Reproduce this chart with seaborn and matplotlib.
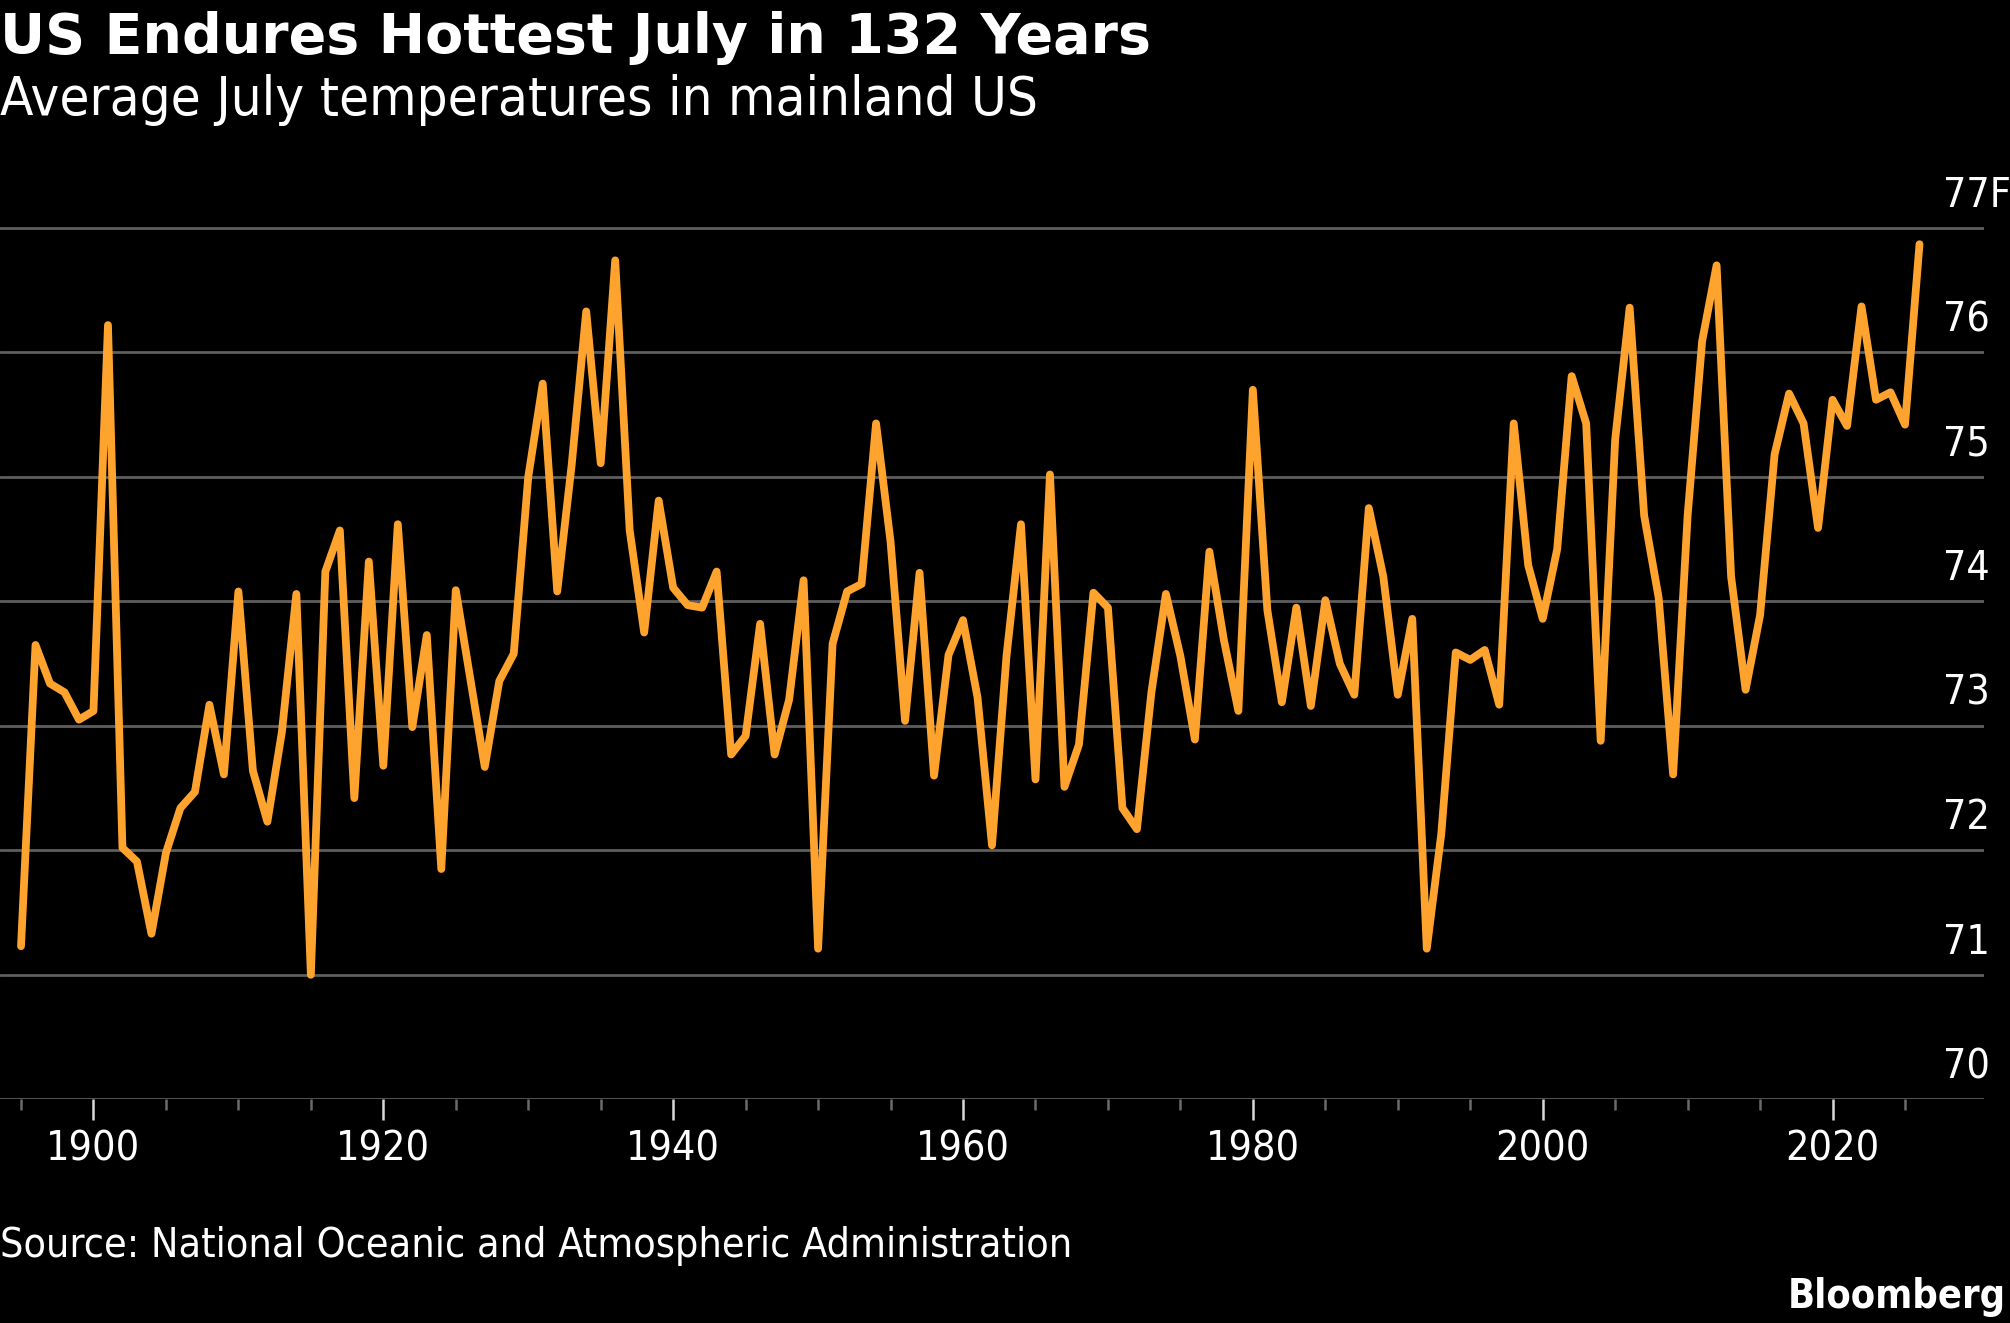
import numpy as np
import pandas as pd
import seaborn as sns
import matplotlib.pyplot as plt
from matplotlib.ticker import FixedLocator

# Data: average July temperature (F), mainland US
years = list(range(1895, 2027))
temps = [
    71.23, 73.65, 73.34, 73.27, 73.05, 73.12, 76.22, 72.02, 71.91, 71.33,  # 1895-1904
    71.98, 72.34, 72.47, 73.17, 72.61, 74.08, 72.64, 72.23, 72.95, 74.06,  # 1905-1914
    71.00, 74.24, 74.57, 72.42, 74.32, 72.68, 74.62, 72.99, 73.73, 71.85,  # 1915-1924
    74.09, 73.38, 72.67, 73.36, 73.58, 75.00, 75.75, 74.08, 75.10, 76.33,  # 1925-1934
    75.11, 76.74, 74.57, 73.75, 74.81, 74.11, 73.97, 73.95, 74.24, 72.77,  # 1935-1944
    72.92, 73.82, 72.77, 73.21, 74.17, 71.21, 73.66, 74.08, 74.14, 75.43,  # 1945-1954
    74.48, 73.04, 74.23, 72.60, 73.57, 73.85, 73.23, 72.04, 73.56, 74.62,  # 1955-1964
    72.57, 75.02, 72.51, 72.85, 74.07, 73.95, 72.34, 72.17, 73.27, 74.06,  # 1965-1974
    73.56, 72.89, 74.40, 73.69, 73.12, 75.70, 73.93, 73.19, 73.95, 73.16,  # 1975-1984
    74.01, 73.50, 73.25, 74.75, 74.20, 73.25, 73.86, 71.21, 72.13, 73.59,  # 1985-1994
    73.53, 73.61, 73.17, 75.43, 74.29, 73.86, 74.42, 75.81, 75.43, 72.88,  # 1995-2004
    75.30, 76.36, 74.69, 74.03, 72.61, 74.69, 76.09, 76.70, 74.20, 73.29,  # 2005-2014
    73.89, 75.18, 75.67, 75.43, 74.59, 75.62, 75.41, 76.37, 75.62, 75.68,  # 2015-2024
    75.42, 76.87,                                                          # 2025-2026
]

# Axis labels
x_ticks = [1900, 1920, 1940, 1960, 1980, 2000, 2020]
x_minor = list(range(1895, 2026, 5))
y_ticks = [70, 71, 72, 73, 74, 75, 76, 77]
y_labels = ['70', '71', '72', '73', '74', '75', '76', '77F']

title = 'US Endures Hottest July in 132 Years'
subtitle = 'Average July temperatures in mainland US'
source = 'Source: National Oceanic and Atmospheric Administration'

df = pd.DataFrame({'year': years, 'temp': temps})

# Dark Bloomberg look
sns.set_style('dark', {'axes.facecolor': 'black', 'figure.facecolor': 'black'})
plt.rcParams['font.family'] = ['DejaVu Sans']
plt.rcParams['font.stretch'] = 'condensed'
plt.rcParams['text.color'] = 'white'

fig = plt.figure(figsize=(20.1, 13.23), dpi=100)
ax = fig.add_axes([0, 0.16909, 0.98706, 0.6868])

sns.lineplot(data=df, x='year', y='temp', color='#ffa32f', linewidth=5.6,
             solid_joinstyle='round', solid_capstyle='round', ax=ax)

ax.set_xlim(1893.55, 2030.45)
ax.set_ylim(70, 77.3)
ax.set_xlabel('')
ax.set_ylabel('')

# Horizontal gridlines, the one at 70 doubles as the axis line
ax.set_yticks(y_ticks)
ax.yaxis.grid(True, color='#5e5e5e', linewidth=2)
ax.xaxis.grid(False)
ax.set_axisbelow(True)
ax.tick_params(axis='y', length=0, labelleft=False)
for s in ax.spines.values():
    s.set_visible(False)

# Year ticks
ax.set_xticks(x_ticks)
ax.set_xticklabels([str(x) for x in x_ticks])
ax.xaxis.set_minor_locator(FixedLocator(x_minor))
ax.tick_params(axis='x', which='major', bottom=True, length=14.9, width=1.8,
               color='#d8d8d8', pad=6.5, labelsize=29.5, labelcolor='white')
ax.tick_params(axis='x', which='minor', bottom=True, length=8.2, width=1.8,
               color='#6a6a6a')

# Value labels sit above the gridlines on the right
for v, lab in zip(y_ticks, y_labels):
    ax.annotate(lab, xy=(1, v), xycoords=('axes fraction', 'data'),
                xytext=(-29.7, 15.1), textcoords='offset points',
                ha='left', va='baseline', fontsize=29.5, color='white')

fig.text(0, 0.95994, title, fontsize=40, fontweight='bold', fontstretch='normal',
         ha='left', va='baseline')
fig.text(0, 0.91308, subtitle, fontsize=39.2, ha='left', va='baseline')
fig.text(0, 0.05011, source, fontsize=29.5, ha='left', va='baseline')
fig.text(0.998, 0.01134, 'Bloomberg', fontsize=28.5, fontweight='bold',
         ha='right', va='baseline')

fig.savefig('out.png', dpi=100, facecolor='black')
